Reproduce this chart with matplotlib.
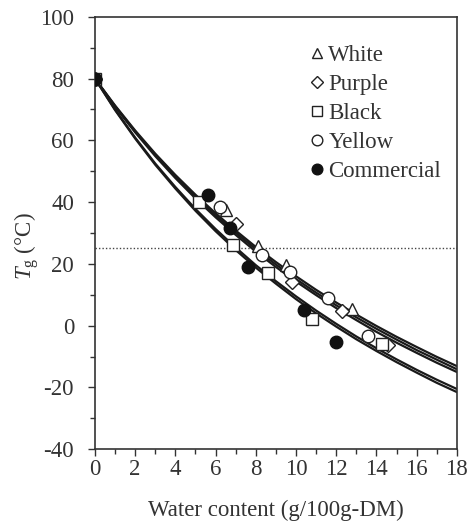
import matplotlib
matplotlib.use("Agg")
import matplotlib.pyplot as plt
from matplotlib.ticker import MultipleLocator

plt.rcParams["font.family"] = ["Liberation Serif", "DejaVu Serif"]
plt.rcParams["mathtext.fontset"] = "custom"
plt.rcParams["mathtext.rm"] = "Liberation Serif"
plt.rcParams["mathtext.it"] = "Liberation Serif:italic"
plt.rcParams["axes.unicode_minus"] = False

# measured points (water content, Tg)
white_x = [0, 6.5, 8.1, 9.5, 12.8]
white_y = [80, 37.5, 25.8, 19.6, 5.4]
purple_x = [0, 7.0, 9.8, 12.3, 14.6]
purple_y = [80, 33.0, 14.2, 4.7, -6.3]
black_x = [0, 5.2, 6.85, 8.6, 10.8, 14.3]
black_y = [80, 40.0, 26.1, 16.9, 2.2, -5.8]
yellow_x = [0, 6.2, 8.3, 9.7, 11.6, 13.6]
yellow_y = [80, 38.3, 22.9, 17.5, 8.8, -3.4]
comm_x = [0, 5.6, 6.7, 7.6, 10.4, 12.0]
comm_y = [80, 42.3, 31.5, 18.9, 5.2, -5.2]

# fitted curves read at each unit of water content
fit_x = list(range(0, 19))
fit_white = [80, 71.3, 63.2, 55.7, 48.8, 42.4, 36.4, 30.8, 25.5, 20.6,
             16.0, 11.6, 7.5, 3.6, -0.1, -3.6, -6.9, -10.1, -13.1]
fit_yellow = [80, 71.1, 62.9, 55.3, 48.3, 41.8, 35.7, 30.1, 24.8, 19.8,
              15.1, 10.7, 6.6, 2.7, -1.0, -4.5, -7.9, -11.0, -14.1]
fit_purple = [80, 70.9, 62.6, 54.9, 47.8, 41.2, 35.1, 29.4, 24.0, 19.0,
              14.3, 9.9, 5.7, 1.8, -2.0, -5.5, -8.8, -12.0, -15.0]
fit_black = [80, 70.0, 60.9, 52.5, 44.9, 37.8, 31.3, 25.3, 19.6, 14.4,
             9.5, 4.9, 0.6, -3.5, -7.3, -10.9, -14.3, -17.5, -20.5]
fit_comm = [80, 69.8, 60.6, 52.1, 44.4, 37.2, 30.6, 24.5, 18.8, 13.6,
            8.6, 4.0, -0.3, -4.4, -8.2, -11.8, -15.2, -18.5, -21.5]

fs = 16.5
fig = plt.figure(figsize=(4.7, 5.26), dpi=100)
ax = fig.add_axes([0.202, 0.146, 0.770, 0.822])

# dotted reference line at room temperature
ax.plot([0, 18], [25, 25], color="#444444", linestyle=(0, (1, 1.5)), linewidth=1, zorder=1)

for fy in [fit_white, fit_yellow, fit_purple, fit_black, fit_comm]:
    ax.plot(fit_x, fy, color="#1a1a1a", linewidth=1.6, zorder=2)

ms = 9
ew = 1.0
ax.plot(white_x, white_y, linestyle="none", marker="^", ms=ms, mfc="white", mec="#222222", mew=ew, label="White", zorder=3)
ax.plot(purple_x, purple_y, linestyle="none", marker="D", ms=ms - 2, mfc="white", mec="#222222", mew=ew, label="Purple", zorder=3)
ax.plot(black_x, black_y, linestyle="none", marker="s", ms=ms, mfc="white", mec="#222222", mew=ew, label="Black", zorder=3)
ax.plot(yellow_x, yellow_y, linestyle="none", marker="o", ms=ms, mfc="white", mec="#222222", mew=ew, label="Yellow", zorder=3)
ax.plot(comm_x, comm_y, linestyle="none", marker="o", ms=ms, mfc="#111111", mec="#111111", mew=ew, label="Commercial", zorder=4)

ax.set_xlim(0, 18)
ax.set_ylim(-40, 100)
ax.xaxis.set_major_locator(MultipleLocator(2))
ax.xaxis.set_minor_locator(MultipleLocator(1))
ax.yaxis.set_major_locator(MultipleLocator(20))
ax.yaxis.set_minor_locator(MultipleLocator(10))
ax.tick_params(which="both", direction="out", labelsize=fs, colors="#333333", width=1)
ax.tick_params(which="major", length=5)
ax.tick_params(which="minor", length=3.5)
ax.tick_params(axis="x", which="major", pad=2)
ax.tick_params(axis="y", which="major", pad=10)
for s in ax.spines.values():
    s.set_color("#333333")
    s.set_linewidth(1.2)

ax.set_xlabel("Water content (g/100g-DM)", fontsize=fs, color="#333333", labelpad=14)
ax.set_ylabel(r"$T_\mathrm{g}$ (°C)", fontsize=fs, color="#333333")
ax.yaxis.set_label_coords(-0.15, 0.47)

leg = ax.legend(loc="upper right", frameon=False, fontsize=fs, handlelength=0.5,
                handletextpad=0.25, labelspacing=0.34, borderaxespad=0.0,
                markerscale=0.85, bbox_to_anchor=(0.982, 0.955))
for t in leg.get_texts():
    t.set_color("#333333")

fig.savefig("out.png", dpi=100)
